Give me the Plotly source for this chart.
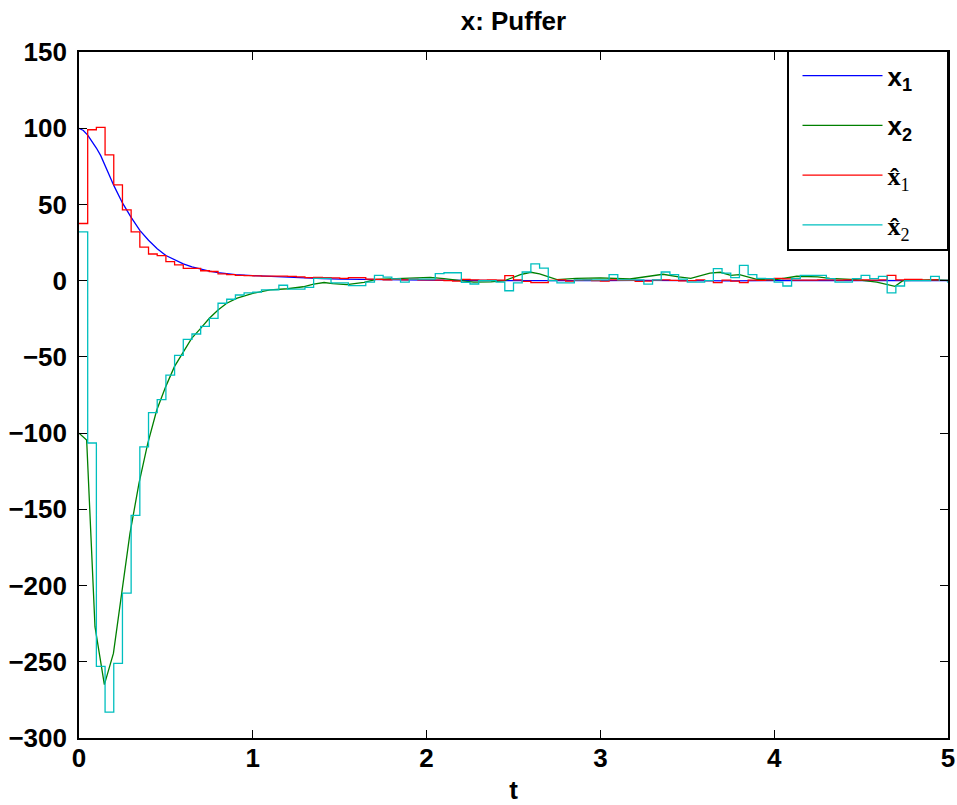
import plotly.graph_objects as go

# ---- data ----
t_x1 = [0, 0.025, 0.05, 0.075, 0.1, 0.125, 0.15, 0.175, 0.2, 0.25, 0.3, 0.35, 0.4, 0.45,
        0.5, 0.55, 0.6, 0.65, 0.7, 0.75, 0.8, 0.9, 1.0, 1.1, 1.2, 1.3, 1.4, 1.5, 1.75,
        2.0, 2.25, 2.5, 2.75, 3.0, 3.25, 3.5, 3.75, 4.0, 4.25, 4.5, 4.75, 5.0]
x1 = [100, 98.5, 95.5, 91.5, 87, 82, 76, 69, 62.5, 51, 41.5, 33, 26.5, 21,
      16.5, 13.5, 11, 9, 7.5, 6.3, 5.3, 4, 3.3, 2.7, 2.2, 1.7, 1.3, 1, 0.5,
      0.3, 0.1, 0, -0.2, 0, 0.2, 0, -0.1, 0.1, 0, 0.1, -0.1, 0]

t_x2 = [0, 0.044, 0.092, 0.146, 0.198, 0.245, 0.293, 0.345, 0.395, 0.447, 0.499, 0.549,
        0.6, 0.648, 0.7, 0.75, 0.8, 0.85, 0.91, 1.0, 1.1, 1.2, 1.29, 1.35, 1.41, 1.46,
        1.54, 1.64, 1.71, 1.79, 1.94, 2.02, 2.1, 2.18, 2.27, 2.37, 2.45, 2.54, 2.6,
        2.65, 2.69, 2.75, 2.86, 3.0, 3.17, 3.36, 3.45, 3.52, 3.63, 3.69, 3.75, 3.8,
        3.9, 4.0, 4.13, 4.25, 4.32, 4.47, 4.59, 4.695, 4.74, 4.82, 4.94, 5.0]
x2 = [-100, -104.5, -227, -265, -244.5, -205, -166, -133, -107, -85, -69.5, -56.4,
      -46.6, -37.8, -31.3, -24.7, -19.2, -14.8, -11.5, -8.3, -6.1, -5.3, -4, -2.2, -1.2, -2.0,
      -2.6, -1.1, 0.9, 1.3, 2.2, 2.2, 1.3, 0.3, -1.0, -0.8, 0, 4, 5.5,
      4.4, 2.9, 0.7, 1.5, 1.8, 1.1, 4.2, 2.5, 1.5, 5, 5.5, 3.5, 4,
      0.8, 0.5, 2.9, 2.5, 1.5, 0.7, -0.9, -3.7, 0, 0.3, 0.7, 0]

# sampled estimates (zero-order hold, sample period 0.05)
t_hat = [round(0.05 * k, 2) for k in range(101)]
x1_hat = [37.5, 99, 100.5, 82.5, 62.8, 46.5, 32, 22, 17.5, 16.4,
          12.5, 10.3, 8, 8, 6.5, 6, 4.5, 4, 3.5, 3.3,
          3.2, 3, 3, 3, 2.8, 2.5, 2, 2.2, 2, 1.8,
          1.5, 2, 2, 1, 0.8, 0.5, 0.8, 0.5, 1, 0.5,
          0.5, 0.3, 0, -0.3, 0.8, 0.5, 0.3, 0.5, 0.3, 3.3,
          0.5, -0.5, -1.3, -1.3, 0.2, 0.5, -0.3, 0.3, 0.5, 0,
          -0.3, 0.5, 0.2, 0.2, -0.5, -0.3, 0.3, 0.5, 0.2, -0.2,
          0, 0.5, 0, -1.3, 0.3, -0.3, -1.3, 0.3, 0.2, 0.5,
          1.5, 1.2, 0.3, 0.3, 0.3, 0.5, 0.5, 0.3, 0.5, 0.3,
          0.5, 0.3, 0.5, 3.5, 0.5, 0.8, 0.8, 0.3, 0.5, 0.3, 0.3]
x2_hat = [32, -106.5, -253, -283, -251, -205, -154, -109, -86.6, -78,
          -62, -49, -38.5, -35, -30, -24.7, -14.8, -12.2, -9.4, -8,
          -7.5, -6, -6, -3, -5.5, -5.5, -4.4, 1.5, 1.5, -1.5,
          -1.5, -3.2, -3.2, -1, 3.5, 2.3, 1.2, -1, 1, 1,
          1, 4.6, 5.2, 5.2, -1.1, -2.2, 0, 0, -0.9, -6.6,
          -1.5, 5.7, 11, 8.2, 0, -1.5, -1.5, 0.5, 0.5, 0.5,
          0.5, 4, 0.5, 0.5, 0.5, -2.3, 0.5, 5.7, 4, 1,
          -1, -1, 0, 7.9, 4.9, 2, 10, 4, 1.5, 1.3,
          -1, -3.5, 1.3, 3.5, 3.5, 3.5, 1.3, -1, -1, 1.3,
          3.5, 1.3, 2.8, -8, -3.5, 0, 0, 0, 2.8, 0.4, -1.5]

x_ticks = [0, 1, 2, 3, 4, 5]
y_ticks = [-300, -250, -200, -150, -100, -50, 0, 50, 100, 150]
y_ticktext = [str(v).replace("-", "\u2212") for v in y_ticks]

serif = "Liberation Serif, Times New Roman, serif"
pad = "\u00a0\u00a0\u00a0\u00a0"
names = [
    "<b>x<sub>1</sub></b>" + pad,
    "<b>x<sub>2</sub></b>" + pad,
    f'<span style="font-family:{serif}"><b>x\u0302</b><sub>1</sub></span>' + pad,
    f'<span style="font-family:{serif}"><b>x\u0302</b><sub>2</sub></span>' + pad,
]

fig = go.Figure()
fig.add_trace(go.Scatter(x=t_x1, y=x1, mode="lines", name=names[0],
                         line=dict(color="#0000ff", width=1.3), legendgroup="a"))
fig.add_trace(go.Scatter(x=t_x2, y=x2, mode="lines", name=names[1],
                         line=dict(color="#008000", width=1.3), legendgroup="b"))
fig.add_trace(go.Scatter(x=t_hat, y=x1_hat, mode="lines", name=names[2], line_shape="hv",
                         line=dict(color="#ff0000", width=1.3), legendgroup="c"))
fig.add_trace(go.Scatter(x=t_hat, y=x2_hat, mode="lines", name=names[3], line_shape="hv",
                         line=dict(color="#00bfbf", width=1.3), legendgroup="d"))

font_main = "Liberation Sans, Arial, sans-serif"
fig.update_layout(
    width=957, height=805,
    margin=dict(l=79, r=9, t=52, b=67, autoexpand=False),
    paper_bgcolor="white", plot_bgcolor="white",
    font=dict(family=font_main, color="black"),
    title=dict(text="<b>x: Puffer</b>", x=0.5365, xanchor="center",
               y=0.974, yanchor="middle", font=dict(size=26)),
    showlegend=True,
    legend=dict(x=1, xanchor="right", y=1.002, yanchor="top",
                bgcolor="white", bordercolor="black", borderwidth=1.5,
                font=dict(size=26, family=font_main),
                traceorder="grouped", tracegroupgap=13, itemwidth=80,
                indentation=9),
)
fig.update_xaxes(range=[0, 5], tickvals=x_ticks, ticktext=[str(v) for v in x_ticks],
                 showgrid=False, zeroline=False, showline=True, linecolor="black",
                 linewidth=1.6, mirror="ticks", ticks="inside", ticklen=8,
                 tickcolor="black", tickwidth=1.2, automargin=False,
                 tickfont=dict(size=26, family=font_main, weight="bold"),
                 ticklabelstandoff=-4,
                 title=dict(text="<b>t</b>", font=dict(size=26), standoff=10))
fig.update_yaxes(range=[-300, 150], tickvals=y_ticks, ticktext=y_ticktext,
                 showgrid=False, zeroline=False, showline=True, linecolor="black",
                 linewidth=1.6, mirror="ticks", ticks="inside", ticklen=8,
                 tickcolor="black", tickwidth=1.2, automargin=False,
                 tickfont=dict(size=26, family=font_main, weight="bold"),
                 ticklabelstandoff=5)

fig.write_html("out.html")
